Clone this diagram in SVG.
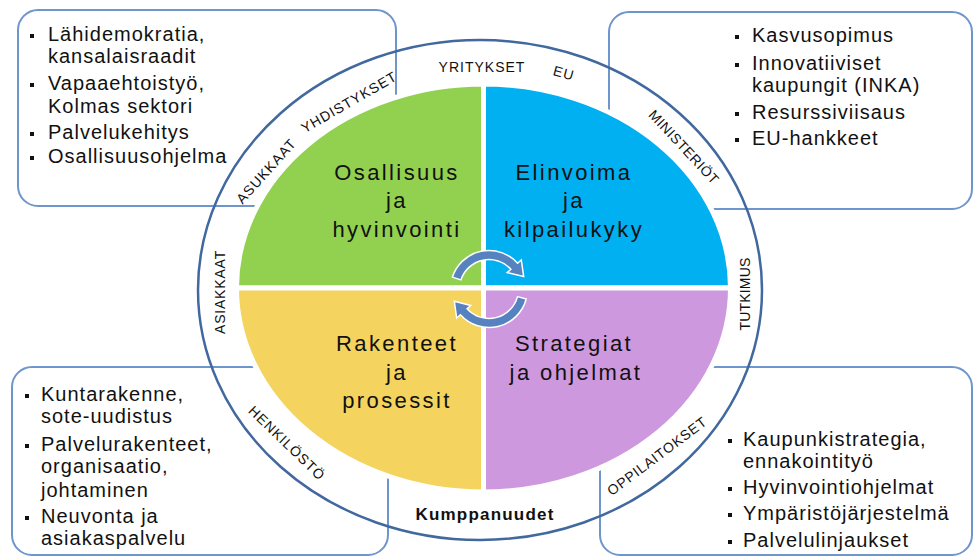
<svg xmlns="http://www.w3.org/2000/svg" width="975" height="558" viewBox="0 0 975 558">
<style>
.box{fill:none;stroke:#6F95CD;stroke-width:2}
.ring{fill:none;stroke:#41689F;stroke-width:2.5}
.q{stroke:#fff;stroke-width:5;stroke-linejoin:miter}
.t{font-family:"Liberation Sans",Arial,sans-serif;font-size:20px;letter-spacing:1px;fill:#111}
.qt{font-family:"Liberation Sans",Arial,sans-serif;font-size:22px;letter-spacing:2.4px;fill:#111;text-anchor:middle}
.rl{font-family:"Liberation Sans",Arial,sans-serif;font-size:14px;letter-spacing:1px;fill:#111;text-anchor:middle}
.kb{font-family:"Liberation Sans",Arial,sans-serif;font-size:17px;font-weight:bold;letter-spacing:1.2px;fill:#111;text-anchor:middle}
.arr{fill:#5683BF;stroke:#fff;stroke-width:1.5;stroke-linejoin:miter}
</style>
<defs>
<rect id="bul" width="4" height="4" fill="#111"/>
</defs>
<rect width="975" height="558" fill="#fff"/>

<g id="box-topleft">
<rect class="box" x="18" y="10" width="378" height="196" rx="20"/>
<use href="#bul" x="30" y="34"/><use href="#bul" x="30" y="83"/><use href="#bul" x="30" y="132"/><use href="#bul" x="30" y="156"/>
<text class="t" x="48" y="41">Lähidemokratia,</text>
<text class="t" x="48" y="63">kansalaisraadit</text>
<text class="t" x="48" y="90">Vapaaehtoistyö,</text>
<text class="t" x="48" y="113">Kolmas sektori</text>
<text class="t" x="48" y="139">Palvelukehitys</text>
<text class="t" x="48" y="163">Osallisuusohjelma</text>
</g>

<g id="box-topright">
<rect class="box" x="609" y="12" width="363" height="197" rx="20"/>
<use href="#bul" x="735" y="35"/><use href="#bul" x="735" y="63"/><use href="#bul" x="735" y="112"/><use href="#bul" x="735" y="138"/>
<text class="t" x="752" y="42">Kasvusopimus</text>
<text class="t" x="752" y="70">Innovatiiviset</text>
<text class="t" x="752" y="92">kaupungit (INKA)</text>
<text class="t" x="752" y="119">Resurssiviisaus</text>
<text class="t" x="752" y="145">EU-hankkeet</text>
</g>

<g id="box-bottomleft">
<rect class="box" x="12" y="367" width="376" height="188" rx="20"/>
<use href="#bul" x="25" y="394"/><use href="#bul" x="25" y="444"/><use href="#bul" x="25" y="516"/>
<text class="t" x="41" y="401">Kuntarakenne,</text>
<text class="t" x="41" y="423">sote-uudistus</text>
<text class="t" x="41" y="451">Palvelurakenteet,</text>
<text class="t" x="41" y="473">organisaatio,</text>
<text class="t" x="41" y="497">johtaminen</text>
<text class="t" x="41" y="523">Neuvonta ja</text>
<text class="t" x="41" y="545">asiakaspalvelu</text>
</g>

<g id="box-bottomright">
<rect class="box" x="600" y="367" width="372" height="188" rx="20"/>
<use href="#bul" x="728" y="439"/><use href="#bul" x="728" y="487"/><use href="#bul" x="728" y="513"/><use href="#bul" x="728" y="540"/>
<text class="t" x="743" y="446">Kaupunkistrategia,</text>
<text class="t" x="743" y="468">ennakointityö</text>
<text class="t" x="743" y="494">Hyvinvointiohjelmat</text>
<text class="t" x="743" y="520">Ympäristöjärjestelmä</text>
<text class="t" x="743" y="547">Palvelulinjaukset</text>
</g>

<g id="ring">
<ellipse class="ring" cx="480" cy="290" rx="282" ry="250"/>
<text class="rl" transform="translate(482,67)" y="5">YRITYKSET</text>
<text class="rl" transform="translate(564,73) rotate(15)" y="5">EU</text>
<text class="rl" transform="translate(684,147) rotate(47)" y="5" style="letter-spacing:0.5px">MINISTERIÖT</text>
<text class="rl" transform="translate(745,294) rotate(-90)" y="5" style="letter-spacing:0.2px">TUTKIMUS</text>
<text class="rl" transform="translate(657,456) rotate(-37)" y="5" style="letter-spacing:0.8px">OPPILAITOKSET</text>
<text class="rl" transform="translate(287,443) rotate(44)" y="5">HENKILÖSTÖ</text>
<text class="rl" transform="translate(220,292) rotate(-90)" y="5" style="letter-spacing:0.8px">ASIAKKAAT</text>
<text class="rl" transform="translate(266,171) rotate(-48)" y="5" style="letter-spacing:1px">ASUKKAAT</text>
<text class="rl" transform="translate(349,102) rotate(-30)" y="5" style="letter-spacing:1px">YHDISTYKSET</text>
<text class="kb" x="485" y="520">Kumppanuudet</text>
</g>

<g id="q-osallisuus">
<path class="q" fill="#92D050" d="M483.5 288 L483.5 84 A247 204 0 0 0 236.5 288 Z"/>
<text class="qt" x="397" y="180">Osallisuus</text>
<text class="qt" x="397" y="208">ja</text>
<text class="qt" x="397" y="237">hyvinvointi</text>
</g>
<g id="q-elinvoima">
<path class="q" fill="#00B0F0" d="M483.5 288 L730.5 288 A247 204 0 0 0 483.5 84 Z"/>
<text class="qt" x="574" y="180">Elinvoima</text>
<text class="qt" x="574" y="208">ja</text>
<text class="qt" x="574" y="237">kilpailukyky</text>
</g>
<g id="q-rakenteet">
<path class="q" fill="#F4D35E" d="M483.5 288 L236.5 288 A247 204 0 0 0 483.5 492 Z"/>
<text class="qt" x="397" y="351">Rakenteet</text>
<text class="qt" x="397" y="380">ja</text>
<text class="qt" x="397" y="408">prosessit</text>
</g>
<g id="q-strategiat">
<path class="q" fill="#CE98DE" d="M483.5 288 L483.5 492 A247 204 0 0 0 730.5 288 Z"/>
<text class="qt" x="574" y="351">Strategiat</text>
<text class="qt" x="576" y="380">ja ohjelmat</text>
</g>

<g id="connectors">
<path class="arr" d="M452.4 277.1 A38.5 38.5 0 0 1 517.6 263.2 L521.3 259.9 L523.7 276.6 L507.2 272.6 L510.9 269.3 A29.5 29.5 0 0 0 460.9 279.9 Z"/>
<path class="arr" d="M526.2 299 A38.5 38.5 0 0 1 460.4 314.8 L456.7 318.1 L454.3 301.3 L470.8 305.4 L467.1 308.7 A29.5 29.5 0 0 0 517.5 296.6 Z"/>
</g>
</svg>
